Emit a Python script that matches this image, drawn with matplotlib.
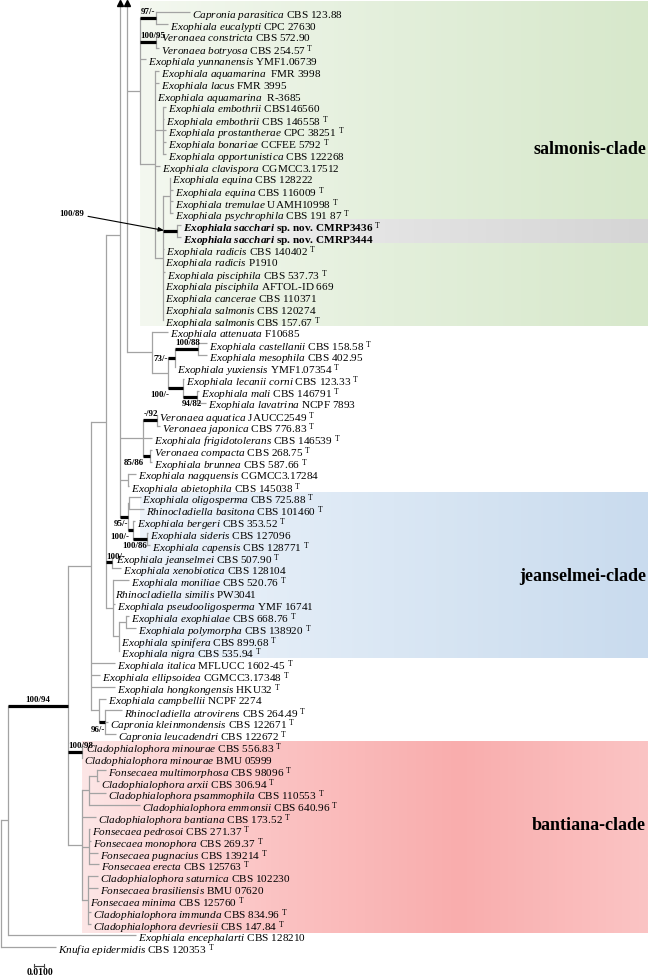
import re
import numpy as np
import matplotlib
matplotlib.use("Agg")
import matplotlib.pyplot as plt
from matplotlib.colors import LinearSegmentedColormap

plt.rcParams['font.family'] = ['Liberation Serif', 'DejaVu Serif']
plt.rcParams['mathtext.fontset'] = 'custom'
plt.rcParams['mathtext.rm'] = 'Liberation Serif'
plt.rcParams['mathtext.it'] = 'Liberation Serif:italic'
plt.rcParams['mathtext.bf'] = 'Liberation Serif:bold'
plt.rcParams['mathtext.bfit'] = 'Liberation Serif:bold:italic'

# ---- tree (branch lengths in 1e-3 substitutions/site, node label = support@placement)
P1 = "(L01:34,L02:12)'97/-@a':16"
P2 = "(L03:3,L04:3)'100/95@a':16"
Emb = "(L09:3,L10:1,L11:3,L12:3,L13:3):8"
Equ = "(L15:0,L16:3,L17:3,L18:3):7"
Sac = "(L19:4,L20:4)'100/89@arrow':14"
Cc = "(" + Equ + "," + Sac + ",L21:1,L22:0,L23:2,L24:0,L25:0,L26:0,L27:0):8"
Bb = "(L06:4,L07:4,L08:0," + Emb + ",L14:5," + Cc + "):15"
Aa = "(" + P1 + "," + P2 + ",L05:6," + Bb + "):13"
N88 = "(L29:9,L30:9)'100/88@a':23"
N73 = "(" + N88 + ",L31:0)'73/-@l':7"
N94 = "(L33:2,L34:9)'94/82@b':14"
N100a = "(L32:1," + N94 + ")'100/-@bl':15"
Att = "(L28:16,(" + N73 + "," + N100a + "):16):25"
X127 = "(^:0," + Aa + "," + Att + "):7"
V92 = "(L35:0,L36:3)'-/92@a':14"
V85 = "(L38:2,L39:2)'85/86@bl':7"
Vv = "(" + V92 + ",L37:9," + V85 + "):23"
Nag = "(L40:8,L41:1):8"
Ob = "(L42:12,L43:15):0.5"
J86 = "(L45:1,L46:3)'100/86@br':14"
J100 = "(L44:2," + J86 + ")'100/-@bl':5"
J95 = "(" + Ob + "," + J100 + ")'95/-@br':8"
X120 = "(" + X127 + "," + Vv + "," + Nag + "," + J95 + "):14"
Jp = "(L47:2,L48:9)'100/-@a':6"
M2 = "((L52:3,L53:10):7,L54:0,L55:0):6"
Mm = "(L49:16,L50:0,L51:2," + M2 + "):7"
Upper = "(" + X120 + "," + Jp + "," + Mm + "):15"
Camp = "(L59:7,(L60:17,L61:3,L62:11)'96/-@br':6):8"
N91 = "(" + Upper + ",L56:24,L57:9,L58:24," + Camp + "):23"
Mino = "(L63:2,L64:0)'100/98@a':14"
Bs1 = "((L65:9,L66:2):8,L67:17,L68:51):7"
Fp = "(L70:1,L71:2,L72:9,L73:10):7"
Fs = "(L74:10,L75:10,L76:0,L77:3,L78:3):6"
Bant = "(" + Bs1 + ",L69:14," + Fp + "," + Fs + "):14"
Ingroup = "(" + N91 + "," + Mino + "," + Bant + ")'100/94@c':60"
tree = "((" + Ingroup + ",L79:128):7,L80:55);"

offchart_y = -38.6   # branch leading off the top of the figure

leaf_names = {
    'L01': ('Capronia parasitica', 'CBS 123.88', False),
    'L02': ('Exophiala eucalypti', 'CPC 27630', False),
    'L03': ('Veronaea constricta', 'CBS 572.90', False),
    'L04': ('Veronaea botryosa', 'CBS 254.57', True),
    'L05': ('Exophiala yunnanensis', 'YMF1.06739', False),
    'L06': ('Exophiala aquamarina', ' FMR 3998', False),
    'L07': ('Exophiala lacus', 'FMR 3995', False),
    'L08': ('Exophiala aquamarina', ' R-3685', False),
    'L09': ('Exophiala embothrii', 'CBS146560', False),
    'L10': ('Exophiala embothrii', 'CBS 146558', True),
    'L11': ('Exophiala prostantherae', 'CPC 38251', True),
    'L12': ('Exophiala bonariae', 'CCFEE 5792', True),
    'L13': ('Exophiala opportunistica', 'CBS 122268', False),
    'L14': ('Exophiala clavispora', 'CGMCC3.17512', False),
    'L15': ('Exophiala equina', 'CBS 128222', False),
    'L16': ('Exophiala equina', 'CBS 116009', True),
    'L17': ('Exophiala tremulae', 'UAMH10998', True),
    'L18': ('Exophiala psychrophila', 'CBS 191 87', True),
    'L19': ('Exophiala sacchari', 'sp. nov. CMRP3436', True),
    'L20': ('Exophiala sacchari', 'sp. nov. CMRP3444', False),
    'L21': ('Exophiala radicis', 'CBS 140402', True),
    'L22': ('Exophiala radicis', 'P1910', False),
    'L23': ('Exophiala pisciphila', 'CBS 537.73', True),
    'L24': ('Exophiala pisciphila', 'AFTOL-ID 669', False),
    'L25': ('Exophiala cancerae', 'CBS 110371', False),
    'L26': ('Exophiala salmonis', 'CBS 120274', False),
    'L27': ('Exophiala salmonis', 'CBS 157.67', True),
    'L28': ('Exophiala attenuata', 'F10685', False),
    'L29': ('Exophiala castellanii', 'CBS 158.58', True),
    'L30': ('Exophiala mesophila', 'CBS 402.95', False),
    'L31': ('Exophiala yuxiensis', 'YMF1.07354', True),
    'L32': ('Exophiala lecanii corni', 'CBS 123.33', True),
    'L33': ('Exophiala mali', 'CBS 146791', True),
    'L34': ('Exophiala lavatrina', 'NCPF 7893', False),
    'L35': ('Veronaea aquatica', 'JAUCC2549', True),
    'L36': ('Veronaea japonica', 'CBS 776.83', True),
    'L37': ('Exophiala frigidotolerans', 'CBS 146539', True),
    'L38': ('Veronaea compacta', 'CBS 268.75', True),
    'L39': ('Exophiala brunnea', 'CBS 587.66', True),
    'L40': ('Exophiala nagquensis', 'CGMCC3.17284', False),
    'L41': ('Exophiala abietophila', 'CBS 145038', True),
    'L42': ('Exophiala oligosperma', 'CBS 725.88', True),
    'L43': ('Rhinocladiella basitona', 'CBS 101460', True),
    'L44': ('Exophiala bergeri', 'CBS 353.52', True),
    'L45': ('Exophiala sideris', 'CBS 127096', False),
    'L46': ('Exophiala capensis', 'CBS 128771', True),
    'L47': ('Exophiala jeanselmei', 'CBS 507.90', True),
    'L48': ('Exophiala xenobiotica', 'CBS 128104', False),
    'L49': ('Exophiala moniliae', 'CBS 520.76', True),
    'L50': ('Rhinocladiella similis', 'PW3041', False),
    'L51': ('Exophiala pseudooligosperma', 'YMF 16741', False),
    'L52': ('Exophiala exophialae', 'CBS 668.76', True),
    'L53': ('Exophiala polymorpha', 'CBS 138920', True),
    'L54': ('Exophiala spinifera', 'CBS 899.68', True),
    'L55': ('Exophiala nigra', 'CBS 535.94', True),
    'L56': ('Exophiala italica', 'MFLUCC 1602-45', True),
    'L57': ('Exophiala ellipsoidea', 'CGMCC3.17348', True),
    'L58': ('Exophiala hongkongensis', 'HKU32', True),
    'L59': ('Exophiala campbellii', 'NCPF 2274', False),
    'L60': ('Rhinocladiella atrovirens', 'CBS 264.49', True),
    'L61': ('Capronia kleinmondensis', 'CBS 122671', True),
    'L62': ('Capronia leucadendri', 'CBS 122672', True),
    'L63': ('Cladophialophora minourae', 'CBS 556.83', True),
    'L64': ('Cladophialophora minourae', 'BMU 05999', False),
    'L65': ('Fonsecaea multimorphosa', 'CBS 98096', True),
    'L66': ('Cladophialophora arxii', 'CBS 306.94', True),
    'L67': ('Cladophialophora psammophila', 'CBS 110553', True),
    'L68': ('Cladophialophora emmonsii', 'CBS 640.96', True),
    'L69': ('Cladophialophora bantiana', 'CBS 173.52', True),
    'L70': ('Fonsecaea pedrosoi', 'CBS 271.37', True),
    'L71': ('Fonsecaea monophora', 'CBS 269.37', True),
    'L72': ('Fonsecaea pugnacius', 'CBS 139214', True),
    'L73': ('Fonsecaea erecta', 'CBS 125763', True),
    'L74': ('Cladophialophora saturnica', 'CBS 102230', False),
    'L75': ('Fonsecaea brasiliensis', 'BMU 07620', False),
    'L76': ('Fonsecaea minima', 'CBS 125760', True),
    'L77': ('Cladophialophora immunda', 'CBS 834.96', True),
    'L78': ('Cladophialophora devriesii', 'CBS 147.84', True),
    'L79': ('Exophiala encephalarti', 'CBS 128210', False),
    'L80': ('Knufia epidermidis', 'CBS 120353', True),
}
new_species = ['L19', 'L20']

# name, first leaf, last leaf, colour stops, left edge (x units), label row, pads
clades = [('salmonis-clade', 'L01', 'L27', ['#f4f8f0', '#e3efdb', '#d7e8cb'], 139, 11.5, -0.9, 0.5),
          ('jeanselmei-clade', 'L42', 'L55', ['#edf3fa', '#dae7f4', '#c9dbee'], 139, 47.6, -0.4, 0.55),
          ('bantiana-clade', 'L63', 'L78', ['#fde6e6', '#fbc3c3', '#f9adad', '#fbc4c4'], 81, 68.6, -0.35, 0.8)]
scale_len = 10  # 0.0100


def parse(s):
    pos = 0

    def node():
        nonlocal pos
        n = {'children': [], 'name': '', 'len': 0.0}
        if s[pos] == '(':
            pos += 1
            while True:
                n['children'].append(node())
                if s[pos] == ',':
                    pos += 1
                    continue
                pos += 1
                break
        m = re.match(r"('[^']*'|[^:,();]*)(:[0-9.]+)?", s[pos:])
        n['name'] = m.group(1).strip("'")
        if m.group(2):
            n['len'] = float(m.group(2)[1:])
        pos += m.end()
        return n
    return node()


root = parse(tree)
leaves = []


def layout(n, x):
    n['x'] = x + n['len']
    if not n['children']:
        if n['name'].startswith('^'):
            n['y'] = offchart_y
        else:
            n['y'] = len(leaves)
            leaves.append(n)
    else:
        for c in n['children']:
            layout(c, n['x'])
        n['y'] = (n['children'][0]['y'] + n['children'][-1]['y']) / 2


layout(root, 0)
idx = {l['name']: l['y'] for l in leaves}

fig = plt.figure(figsize=(6.5, 9.79), dpi=100)
ax = fig.add_axes([0, 0, 1, 1])
ax.set_xlim(-1, 649)
ax.set_ylim(81.6, -1.1)
ax.axis('off')

grad = np.linspace(0, 1, 256).reshape(1, -1)
for lab, a, b, cols, x0, ly, pad0, pad1 in clades:
    y0, y1 = idx[a] + pad0, idx[b] + pad1
    cm = LinearSegmentedColormap.from_list(lab, cols)
    ax.imshow(grad, cmap=cm, aspect='auto', extent=(x0, 647, y1, y0), zorder=0)
    ax.text(645, ly, lab, ha='right', va='center', fontsize=13, fontweight='bold', zorder=3)

ya, yb = idx[new_species[0]] - 0.5, idx[new_species[-1]] + 0.5
cm = LinearSegmentedColormap.from_list('ns', ['#f2f2f2', '#e2e2e2', '#d5d5d5'])
ax.imshow(grad, cmap=cm, aspect='auto', extent=(179, 647, yb, ya), zorder=0.5)

grey = '#a3a3a3'
arrow_nodes = []


def draw(n, px):
    if n['name'].startswith('^'):
        return
    sup, mode = '', ''
    if n['children'] and n['name']:
        sup, mode = n['name'].split('@')
    thick = sup != ''
    ax.plot([px, n['x']], [n['y'], n['y']], color='black' if thick else grey,
            lw=2.3 if thick else 0.9, solid_capstyle='butt', zorder=2)
    if thick:
        kw = dict(fontsize=6.4, fontweight='bold', zorder=3)
        if mode == 'a':
            ax.text(px + 0.5, n['y'] - 0.25, sup, ha='left', va='bottom', **kw)
        elif mode == 'c':
            ax.text((px + n['x']) / 2, n['y'] - 0.25, sup, ha='center', va='bottom', **kw)
        elif mode == 'l':
            ax.text(px - 0.5, n['y'], sup, ha='right', va='center', **kw)
        elif mode == 'bl':
            ax.text(px + 1, n['y'] + 0.15, sup, ha='right', va='top', **kw)
        elif mode == 'br':
            ax.text(n['x'], n['y'] + 0.2, sup, ha='right', va='top', **kw)
        elif mode == 'b':
            ax.text(px - 1, n['y'] + 0.2, sup, ha='left', va='top', **kw)
        elif mode == 'arrow':
            ax.annotate(sup, xy=(px + 1, n['y'] - 0.05), xytext=(px - 104, n['y'] - 1.5),
                        ha='left', va='center',
                        arrowprops=dict(arrowstyle='-|>,head_length=0.5,head_width=0.2',
                                        color='black', lw=0.8, shrinkA=1, shrinkB=0), **kw)
    if n['children']:
        top = n['children'][0]['y']
        ax.plot([n['x'], n['x']], [top, n['children'][-1]['y']],
                color=grey, lw=0.9, zorder=1)
        if top < -1:
            arrow_nodes.append(n['x'])
        for c in n['children']:
            draw(c, n['x'])
    else:
        g, strain, t = leaf_names[n['name']]
        g = g.replace(' ', r'\ ')
        if n['name'] in new_species:
            s = r'$\mathbfit{' + g + r'}$ ' + strain
            w = 'bold'
        else:
            s = r'$\mathit{' + g + r'}$ ' + strain
            w = 'normal'
        if t:
            s += r' $^{\mathrm{T}}$'
        ax.text(n['x'] + 2, n['y'] + 0.02, s, fontsize=8.1, fontweight=w,
                va='center_baseline', ha='left', zorder=3)


draw(root, 0)

for xa in arrow_nodes:
    ax.plot([xa], [-0.78], marker='^', ms=4.5, color='black', zorder=3, clip_on=False)

# scale bar
ax.plot([33, 33 + scale_len], [80.55, 80.55], color='#444444', lw=0.8)
ax.plot([33, 33], [80.4, 80.7], color='#444444', lw=0.8)
ax.plot([33 + scale_len, 33 + scale_len], [80.4, 80.7], color='#444444', lw=0.8)
ax.text(33 + scale_len / 2 + 1, 81.05, '0.0100', ha='center', va='center', fontsize=7, fontweight='bold')

fig.savefig('out.png', dpi=100)
